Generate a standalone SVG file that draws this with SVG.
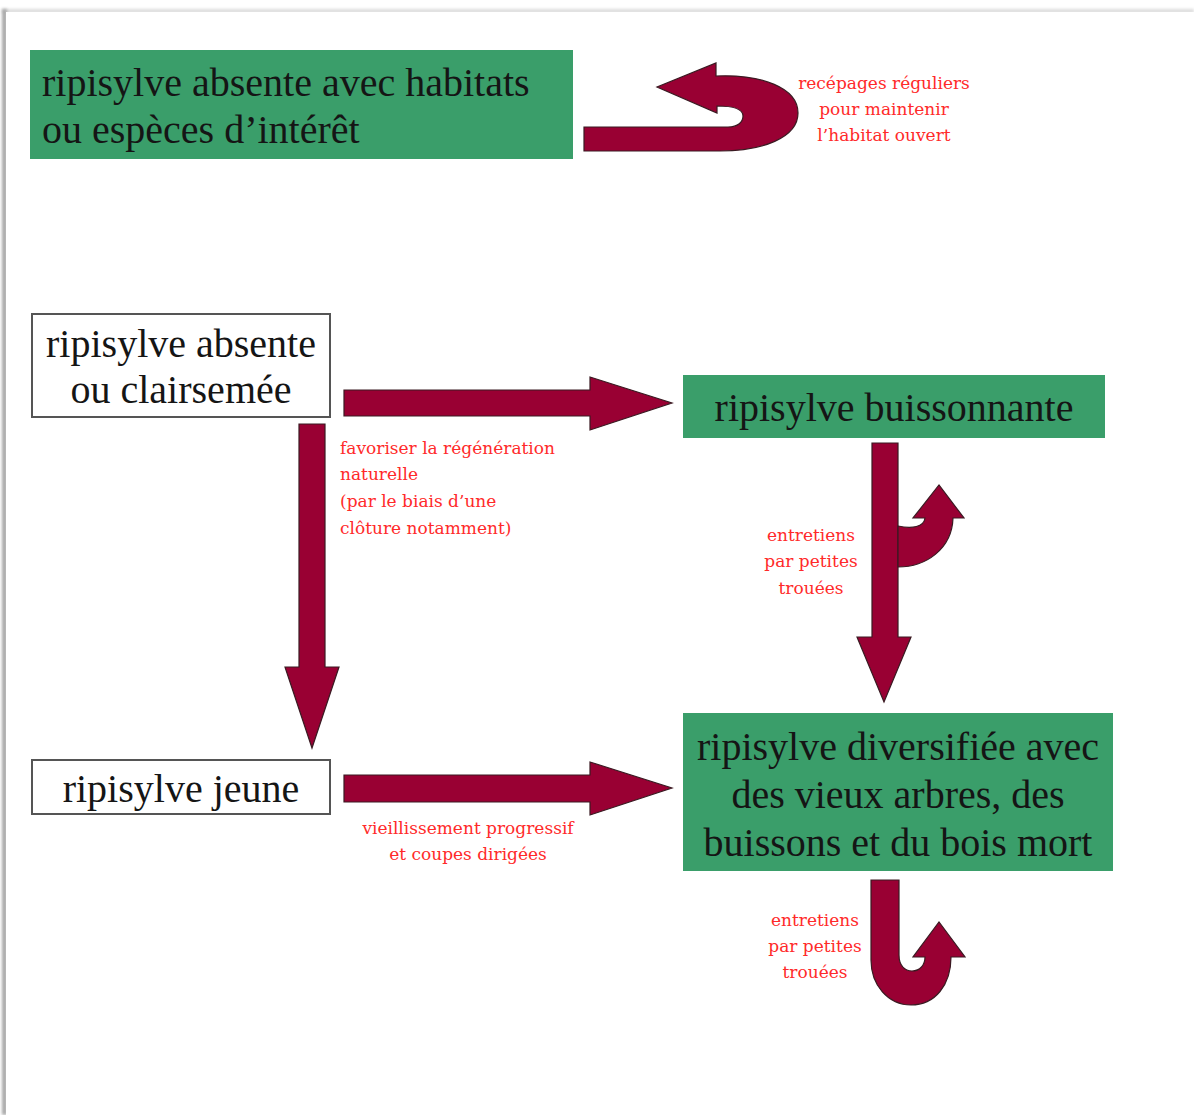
<svg xmlns="http://www.w3.org/2000/svg" width="1194" height="1115" viewBox="0 0 1194 1115">
  <defs>
    <filter id="pageShadow" filterUnits="userSpaceOnUse" x="0" y="0" width="1194" height="1115">
      <feGaussianBlur stdDeviation="1.5"/>
    </filter>
    <style>
      .green { fill: #3a9e6a; }
      .plain { fill: #ffffff; stroke: #555555; stroke-width: 2; }
      .main { font-family: "Liberation Serif", "Times New Roman", serif; font-size: 40px; fill: #151515; }
      .note { font-family: "DejaVu Serif", "Liberation Serif", serif; font-size: 17px; fill: #ff2a2a; }
      .mid { text-anchor: middle; }
      .arrow { fill: #990033; stroke: #3a1a22; stroke-width: 1.2; stroke-linejoin: miter; }
    </style>
  </defs>

  <!-- page sheet with a soft edge on the top and left -->
  <rect x="0" y="0" width="1194" height="1115" fill="#ffffff"/>
  <g id="page">
    <rect x="2" y="9" width="1192" height="4" fill="#dcdcdc" filter="url(#pageShadow)"/>
    <rect x="2" y="9" width="5" height="1106" fill="#a8a8a8" filter="url(#pageShadow)"/>
    <rect x="6" y="12" width="1188" height="1103" fill="#ffffff"/>
  </g>

  <!-- nodes -->
  <g id="node-habitats">
    <rect class="green" x="30" y="50" width="543" height="109"/>
    <text class="main" x="42" y="96">ripisylve absente avec habitats</text>
    <text class="main" x="42" y="143">ou espèces d’intérêt</text>
  </g>

  <g id="node-absente">
    <rect class="plain" x="32" y="314" width="298" height="103"/>
    <text class="main mid" x="181" y="357">ripisylve absente</text>
    <text class="main mid" x="181" y="403">ou clairsemée</text>
  </g>

  <g id="node-buissonnante">
    <rect class="green" x="683" y="375" width="422" height="63"/>
    <text class="main mid" x="894" y="421">ripisylve buissonnante</text>
  </g>

  <g id="node-jeune">
    <rect class="plain" x="32" y="760" width="298" height="54"/>
    <text class="main mid" x="181" y="802">ripisylve jeune</text>
  </g>

  <g id="node-diversifiee">
    <rect class="green" x="683" y="713" width="430" height="158"/>
    <text class="main mid" x="898" y="760">ripisylve diversifiée avec</text>
    <text class="main mid" x="898" y="808">des vieux arbres, des</text>
    <text class="main mid" x="898" y="856">buissons et du bois mort</text>
  </g>

  <!-- connectors -->
  <g id="connectors">
    <!-- loop back onto the open habitat -->
    <path class="arrow" d="M584,127 L728,127 C738,127 743,122 743,116 C743,110 737,106 717,106 L717,113 L657,87 L716,63 L716,76 C762,74 798,88 798,113 C798,138 762,151 720,151 L584,151 Z"/>
    <!-- absente -> buissonnante -->
    <path class="arrow" d="M344,390 L590,390 L590,377 L672,403 L590,430 L590,416 L344,416 Z"/>
    <!-- absente -> jeune -->
    <path class="arrow" d="M299,424 L325,424 L325,667 L339,667 L312,748 L285,667 L299,667 Z"/>
    <!-- jeune -> diversifiee -->
    <path class="arrow" d="M344,775 L590,775 L590,762 L672,788 L590,815 L590,802 L344,802 Z"/>
    <!-- buissonnante -> diversifiee -->
    <path class="arrow" d="M872,443 L898,443 L898,637 L911,637 L884,702 L857,637 L872,637 Z"/>
    <!-- small loop beside the buissonnante shaft -->
    <path class="arrow" d="M898,526 C912,529 924,527 925,518 L913,518 L939,485 L964,518 L953,518 C952,549 926,567 898,567 Z"/>
    <!-- loop below the diversifiee node -->
    <path class="arrow" d="M871,880 L899,880 L899,955 C899,966 905,971 912,971 C920,971 925,965 925,957 L913,957 L939,922 L965,957 L951,957 C951,985 935,1005 911,1005 C888,1005 871,985 871,960 Z"/>
  </g>

  <!-- connector labels -->
  <g id="labels">
    <text class="note mid" x="884" y="89">recépages réguliers</text>
    <text class="note mid" x="884" y="115">pour maintenir</text>
    <text class="note mid" x="884" y="141">l’habitat ouvert</text>

    <text class="note" x="340" y="454">favoriser la régénération</text>
    <text class="note" x="340" y="480">naturelle</text>
    <text class="note" x="340" y="507">(par le biais d’une</text>
    <text class="note" x="340" y="534">clôture notamment)</text>

    <text class="note mid" x="811" y="541">entretiens</text>
    <text class="note mid" x="811" y="567">par petites</text>
    <text class="note mid" x="811" y="594">trouées</text>

    <text class="note mid" x="468" y="834">vieillissement progressif</text>
    <text class="note mid" x="468" y="860">et coupes dirigées</text>

    <text class="note mid" x="815" y="926">entretiens</text>
    <text class="note mid" x="815" y="952">par petites</text>
    <text class="note mid" x="815" y="978">trouées</text>
  </g>
</svg>
